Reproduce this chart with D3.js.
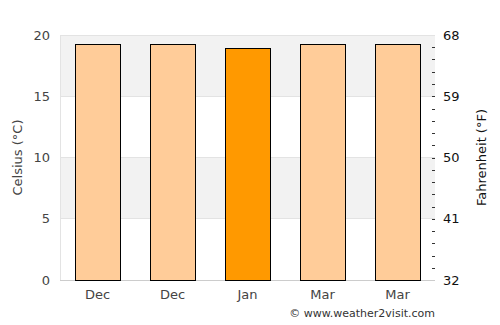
<!DOCTYPE html>
<html>
<head>
<script src="https://d3js.org/d3.v7.min.js"></script>
<style>
  body { margin: 0; font-family: "DejaVu Sans", sans-serif; background: #fff; }
</style>
</head>
<body>
<svg id="chart" width="500" height="325"></svg>
<script>
var months = ["Dec", "Dec", "Jan", "Mar", "Mar"];
var temps = [19.3, 19.3, 18.9, 19.3, 19.3];
var highlight = [false, false, true, false, false];
var celsiusTicks = [0, 5, 10, 15, 20];
var fahrenheitTicks = [32, 41, 50, 59, 68];

var margin = {left: 60, right: 65, top: 35, bottom: 45};
var width = 500, height = 325;

var svg = d3.select("#chart");

var x = d3.scaleBand()
  .domain(d3.range(months.length))
  .range([margin.left, width - margin.right])
  .paddingInner(0.4)
  .paddingOuter(0.2);

var y = d3.scaleLinear()
  .domain([0, 20])
  .range([height - margin.bottom, margin.top]);

var yF = d3.scaleLinear()
  .domain([32, 68])
  .range([height - margin.bottom, margin.top]);

// alternating bands
svg.selectAll("rect.band")
  .data([[5, 10], [15, 20]])
  .enter().append("rect")
  .attr("x", margin.left)
  .attr("width", width - margin.right - margin.left)
  .attr("y", function(d) { return y(d[1]); })
  .attr("height", function(d) { return y(d[0]) - y(d[1]); })
  .attr("fill", "#f2f2f2");

// grid lines
svg.selectAll("line.grid")
  .data(celsiusTicks)
  .enter().append("line")
  .attr("x1", margin.left)
  .attr("x2", width - margin.right)
  .attr("y1", function(d) { return y(d); })
  .attr("y2", function(d) { return y(d); })
  .attr("stroke", function(d) { return d == 0 ? "#ccc" : "#e3e3e3"; })
  .attr("stroke-width", 1)
  .attr("shape-rendering", "crispEdges");

svg.append("line")
  .attr("x1", margin.left).attr("x2", margin.left)
  .attr("y1", margin.top).attr("y2", height - margin.bottom)
  .attr("stroke", "#e3e3e3")
  .attr("shape-rendering", "crispEdges");

// bars
svg.selectAll("rect.bar")
  .data(temps)
  .enter().append("rect")
  .attr("x", function(d, i) { return Math.round(x(i)) + 0.5; })
  .attr("width", Math.round(x.bandwidth()))
  .attr("y", function(d) { return Math.round(y(d)) + 0.5; })
  .attr("height", function(d) { return Math.round(y(0)) - Math.round(y(d)); })
  .attr("fill", function(d, i) { return highlight[i] ? "#ff9900" : "#ffcc99"; })
  .attr("stroke", "#000")
  .attr("stroke-width", 1);

// left axis labels
svg.selectAll("text.yl")
  .data(celsiusTicks)
  .enter().append("text")
  .attr("x", 50)
  .attr("y", function(d) { return y(d); })
  .attr("dy", "0.35em")
  .attr("text-anchor", "end")
  .attr("font-size", 13)
  .attr("fill", "#444")
  .text(function(d) { return d; });

// right axis labels
svg.selectAll("text.yr")
  .data(fahrenheitTicks)
  .enter().append("text")
  .attr("x", 443)
  .attr("y", function(d) { return yF(d); })
  .attr("dy", "0.35em")
  .attr("font-size", 13)
  .attr("fill", "#111")
  .text(function(d) { return d; });

// minor ticks on right, every 1 C
svg.selectAll("line.minor")
  .data(d3.range(1, 20))
  .enter().append("line")
  .attr("x1", width - margin.right - 3)
  .attr("x2", width - margin.right)
  .attr("y1", function(d) { return Math.round(y(d)) + 0.5; })
  .attr("y2", function(d) { return Math.round(y(d)) + 0.5; })
  .attr("stroke", "#333")
  .attr("stroke-width", 1);

// x labels
svg.selectAll("text.xl")
  .data(months)
  .enter().append("text")
  .attr("x", function(d, i) { return x(i) + x.bandwidth() / 2; })
  .attr("y", 299)
  .attr("text-anchor", "middle")
  .attr("font-size", 13)
  .attr("fill", "#444")
  .text(function(d) { return d; });

// axis titles
svg.append("text")
  .attr("transform", "translate(22," + ((margin.top + height - margin.bottom) / 2) + ") rotate(-90)")
  .attr("text-anchor", "middle")
  .attr("font-size", 13)
  .attr("fill", "#444")
  .text("Celsius (°C)");

svg.append("text")
  .attr("transform", "translate(486," + ((margin.top + height - margin.bottom) / 2) + ") rotate(-90)")
  .attr("text-anchor", "middle")
  .attr("font-size", 13)
  .attr("fill", "#111")
  .text("Fahrenheit (°F)");

svg.append("text")
  .attr("x", 435)
  .attr("y", 317)
  .attr("text-anchor", "end")
  .attr("font-size", 11)
  .attr("fill", "#333")
  .text("© www.weather2visit.com");
</script>
</body>
</html>
